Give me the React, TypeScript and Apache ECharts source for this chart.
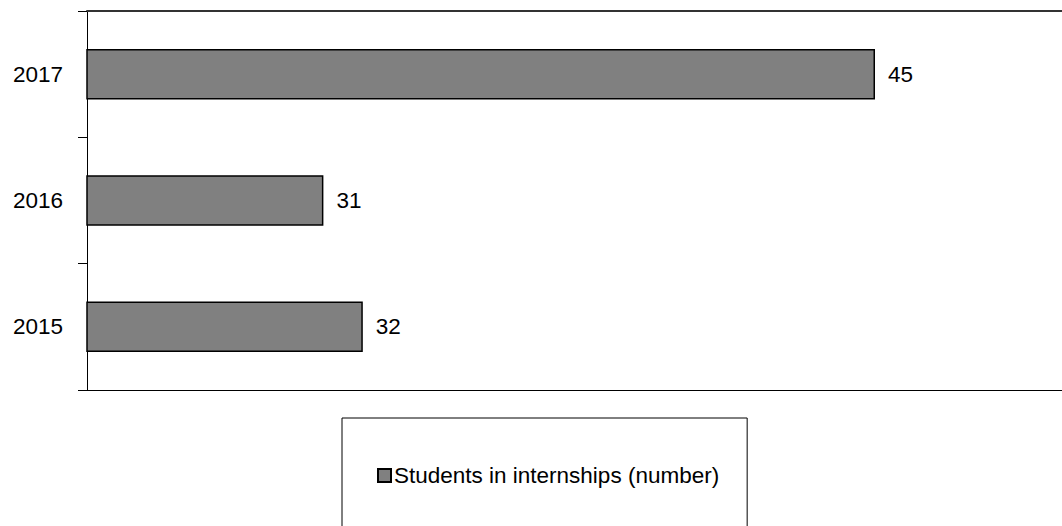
import React, { useEffect, useRef } from "react";
import * as echarts from "echarts";

// Students placed in internships per year
const years: string[] = ["2015", "2016", "2017"];
const studentsInInternships: number[] = [32, 31, 45];
const seriesName = "Students in internships (number)";

// Value axis range (the axis is not zero-based)
const valueMin = 25;
const valueMax = 50;

const FONT = '"Liberation Sans", Arial, sans-serif';
const FONT_SIZE = 22.5;

export default function App() {
  const ref = useRef<HTMLDivElement>(null);

  useEffect(() => {
    if (!ref.current) return;
    const chart = echarts.init(ref.current, undefined, { renderer: "svg" });
    chart.setOption({
      animation: false,
      backgroundColor: "#ffffff",
      textStyle: { fontFamily: FONT },
      // plot runs past the right edge of the canvas
      grid: {
        left: 87,
        top: 11,
        bottom: 136,
        width: 985,
        containLabel: false,
        outerBoundsMode: "none",
      },
      legend: {
        data: [seriesName],
        left: 342,
        top: 418,
        orient: "horizontal",
        padding: [46, 28, 60, 35],
        borderColor: "#000000",
        borderWidth: 1,
        icon: "rect",
        itemWidth: 13,
        itemHeight: 13,
        itemGap: 0,
        textStyle: {
          fontFamily: FONT,
          fontSize: FONT_SIZE,
          lineHeight: 22,
          color: "#000000",
          padding: [0, 0, 0, -2],
        },
      },
      xAxis: [
        {
          type: "value",
          position: "bottom",
          min: valueMin,
          max: valueMax,
          axisLine: { show: true, lineStyle: { color: "#000000", width: 1 } },
          axisTick: { show: false },
          axisLabel: { show: false },
          splitLine: { show: false },
        },
        {
          type: "value",
          position: "top",
          min: valueMin,
          max: valueMax,
          axisLine: { show: true, lineStyle: { color: "#333333", width: 2 } },
          axisTick: { show: false },
          axisLabel: { show: false },
          splitLine: { show: false },
        },
      ],
      yAxis: {
        type: "category",
        data: years,
        axisLine: { show: true, lineStyle: { color: "#000000", width: 1 } },
        axisTick: { show: true, length: 9, lineStyle: { color: "#000000" } },
        axisLabel: {
          margin: 24,
          fontFamily: FONT,
          fontSize: FONT_SIZE,
          color: "#000000",
        },
        splitLine: { show: false },
      },
      series: [
        {
          name: seriesName,
          type: "bar",
          xAxisIndex: 0,
          data: studentsInInternships,
          barWidth: "40%",
          itemStyle: { color: "#808080", borderColor: "#000000", borderWidth: 1.5 },
          label: {
            show: true,
            position: "right",
            distance: 13,
            fontFamily: FONT,
            fontSize: FONT_SIZE,
            color: "#000000",
          },
        },
      ],
    });
    return () => chart.dispose();
  }, []);

  return (
    <div
      ref={ref}
      style={{ position: "absolute", left: 0, top: 0, width: 1062, height: 526, background: "#fff" }}
    />
  );
}
